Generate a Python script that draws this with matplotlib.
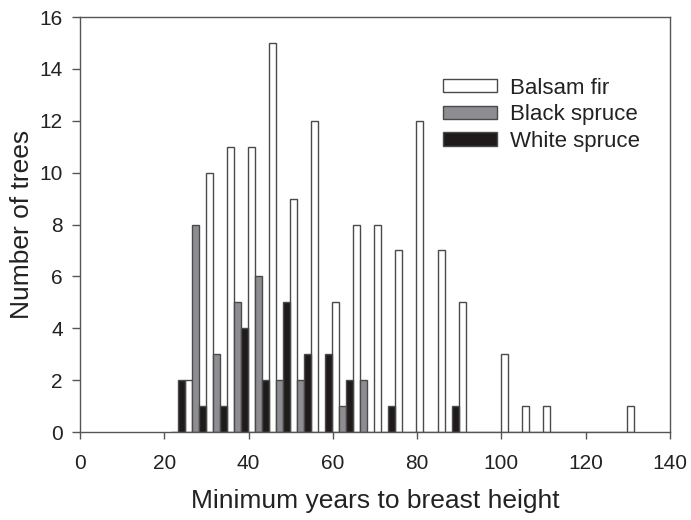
import numpy as np
import matplotlib.pyplot as plt

plt.rcParams['font.family'] = ['Liberation Sans', 'DejaVu Sans']

# bin centres (years) and counts per species
bins = [24, 29, 34, 39, 44, 49, 54, 59, 64, 69, 74, 79, 84, 89, 94,
        99, 104, 109, 114, 119, 124, 129]
balsam_fir = [2, 10, 11, 11, 15, 9, 12, 5, 8, 8, 7, 12, 7, 5, 0,
              3, 1, 1, 0, 0, 0, 1]
black_spruce = [0, 8, 3, 5, 6, 2, 2, 0, 1, 2, 0, 0, 0, 0, 0,
                0, 0, 0, 0, 0, 0, 0]
white_spruce = [2, 1, 1, 4, 2, 5, 3, 3, 2, 0, 1, 0, 0, 1, 0,
                0, 0, 0, 0, 0, 0, 0]

x = np.array(bins, dtype=float)
w = 5 / 3
edge = '#4a4a4a'

fig = plt.figure(figsize=(6.91, 5.2), dpi=100)
ax = fig.add_axes([0.1158, 0.1692, 0.8538, 0.798])

ax.bar(x + w, balsam_fir, width=w, color='white', edgecolor=edge,
       linewidth=1, label='Balsam fir')
ax.bar(x - w, black_spruce, width=w, color='#8e8e92', edgecolor=edge,
       linewidth=1, label='Black spruce')
ax.bar(x, white_spruce, width=w, color='#1f1b1b', edgecolor=edge,
       linewidth=1, label='White spruce')

ax.set_xlim(0, 140)
ax.set_ylim(0, 16)
ax.set_xticks(range(0, 141, 20))
ax.set_yticks(range(0, 17, 2))
ax.tick_params(direction='out', width=1, color='#555555',
               labelsize=15, labelcolor='#222222')
ax.tick_params(axis='x', length=5, pad=10.5)
ax.tick_params(axis='y', length=6, pad=6.5)
for s in ax.spines.values():
    s.set_color('#555555')
    s.set_linewidth(1)

ax.set_xlabel('Minimum years to breast height', fontsize=19,
              color='#222222', labelpad=12)
ax.set_ylabel('Number of trees', fontsize=19, color='#222222', labelpad=4)

ax.legend(loc='upper left', bbox_to_anchor=(0.615, 0.854), frameon=False,
          fontsize=16, handlelength=2.43, handleheight=0.54,
          handletextpad=0.6, labelspacing=0.25, borderpad=0,
          borderaxespad=0, labelcolor='#222222')

fig.savefig('out.png', dpi=100)
